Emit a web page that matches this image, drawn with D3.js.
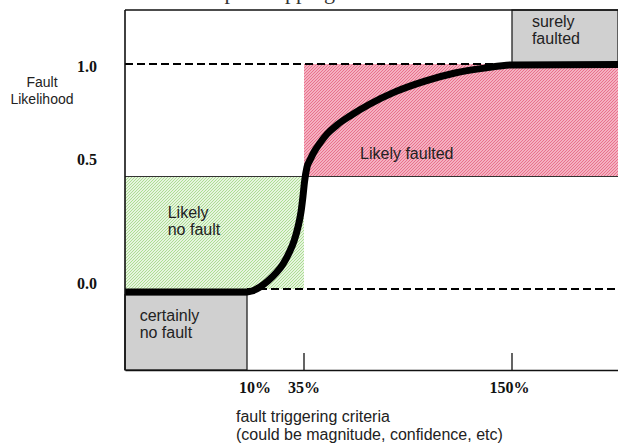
<!DOCTYPE html>
<html>
<head>
<meta charset="utf-8">
<script src="https://cdn.jsdelivr.net/npm/d3@7"></script>
<style>
  body { margin: 0; background: #fff; }
  svg { display: block; }
</style>
</head>
<body>
<div id="chart"></div>
<script>
// cut-off heading above the figure
const title = "Transformation of input mapping function";

// x axis: fault triggering criteria (%), drawn on a schematic piecewise scale
const xBreaks = [0, 10, 35, 150, 200];
const xTicks = [10, 35, 150];
const xTickLabels = ["10%", "35%", "150%"];
const xTickLabelAt = [13.5, 35, 148.6];

// y axis: fault likelihood
const yExtent = [-0.36, 1.24];
const yTickLabels = ["1.0", "0.5", "0.0"];
const yTickLabelAt = [0.99, 0.578, 0.027];

// the mapping curve
const curveX = [0, 10, 12.19, 15.7, 19.21, 22.72, 25.79, 28.42, 30.61, 32.37, 33.68, 34.56, 35.28, 36.66, 38.32, 40.53, 43.85, 47.72, 53.25, 60.43, 71.49, 85.31, 101.9, 118.48, 135.07, 150, 200];
const curveY = [-0.013, -0.013, -0.009, 0.009, 0.036, 0.071, 0.111, 0.16, 0.213, 0.276, 0.342, 0.413, 0.476, 0.542, 0.573, 0.609, 0.649, 0.689, 0.729, 0.769, 0.822, 0.876, 0.924, 0.96, 0.982, 0.996, 0.998];

// zones
const zoneNames = ["Likely no fault", "Likely faulted", "certainly no fault", "surely faulted"];
const zoneX = [[0, 35], [35, 200], [0, 10], [150, 200]];
const zoneY = [[0, 0.5], [0.5, 1.0], [-0.36, -0.025], [1.0, 1.24]];
const zoneLines = [["Likely", "no fault"], ["Likely faulted"], ["certainly", "no fault"], ["surely", "faulted"]];
const zoneLabelAt = [[3.5, 0.316], [66, 0.578], [1.2, -0.142], [159.4, 1.164]];

// reference levels
const dashedLevels = [1.0, 0.0];
const dashedFrom = [[0, 150], [10, 200]];

const width = 618, height = 444;
const margin = { top: 10, right: 0, bottom: 74, left: 125 };
const innerWidth = width - margin.left - margin.right;
const innerHeight = height - margin.top - margin.bottom;

const svgRoot = d3.select("#chart").append("svg")
  .attr("width", width)
  .attr("height", height);

// heading, only the descenders show at the very top
svgRoot.append("text")
  .attr("x", 42)
  .attr("y", -1)
  .attr("font-family", "Liberation Serif, Times New Roman, serif")
  .attr("font-size", 22)
  .attr("fill", "#333")
  .text(title);

const defs = svgRoot.append("defs");
const hatch = (id, bg, fg) => {
  const p = defs.append("pattern")
    .attr("id", id)
    .attr("patternUnits", "userSpaceOnUse")
    .attr("width", 3)
    .attr("height", 3);
  p.append("rect").attr("width", 3).attr("height", 3).attr("fill", bg);
  p.append("path")
    .attr("d", "M-1,1 l2,-2 M0,3 l3,-3 M2,4 l2,-2")
    .attr("stroke", fg)
    .attr("stroke-width", 1.1);
};
hatch("hatch-green", "#ffffff", "#a9dc8e");
hatch("hatch-pink", "#f9cdd7", "#e96c89");

const svg = svgRoot.append("g")
  .attr("transform", `translate(${margin.left},${margin.top})`);

const xScale = d3.scaleLinear()
  .domain(xBreaks)
  .range([0, 122, 179, 387, innerWidth]);

const yScale = d3.scaleLinear()
  .domain(yExtent)
  .range([innerHeight, 0]);

const zoneFills = ["url(#hatch-green)", "url(#hatch-pink)", "#d0d0d0", "#d0d0d0"];

// zone rectangles
zoneNames.forEach((name, i) => {
  svg.append("rect")
    .attr("x", xScale(zoneX[i][0]))
    .attr("y", yScale(zoneY[i][1]))
    .attr("width", xScale(zoneX[i][1]) - xScale(zoneX[i][0]))
    .attr("height", yScale(zoneY[i][0]) - yScale(zoneY[i][1]))
    .attr("fill", zoneFills[i])
    .attr("stroke", i >= 2 ? "#222" : "none")
    .attr("stroke-width", i >= 2 ? 1.3 : 0);
});

// 0.5 boundary line
svg.append("line")
  .attr("x1", 0)
  .attr("x2", innerWidth)
  .attr("y1", yScale(0.5))
  .attr("y2", yScale(0.5))
  .attr("stroke", "#333")
  .attr("stroke-width", 1);

// dashed 0 and 1 levels
dashedLevels.forEach((lvl, i) => {
  svg.append("line")
    .attr("x1", xScale(dashedFrom[i][0]))
    .attr("x2", xScale(dashedFrom[i][1]))
    .attr("y1", yScale(lvl))
    .attr("y2", yScale(lvl))
    .attr("stroke", "#000")
    .attr("stroke-width", 2)
    .attr("stroke-dasharray", "8 4");
});

// zone labels
zoneNames.forEach((name, i) => {
  const t = svg.append("text")
    .attr("x", xScale(zoneLabelAt[i][0]))
    .attr("y", yScale(zoneLabelAt[i][1]))
    .attr("font-family", "Liberation Sans, Arial, sans-serif")
    .attr("font-size", 16)
    .attr("fill", "#222");
  zoneLines[i].forEach((line, j) => {
    t.append("tspan")
      .attr("x", xScale(zoneLabelAt[i][0]))
      .attr("dy", j === 0 ? 0 : 17)
      .text(line);
  });
});

// the curve
const points = curveX.map((x, i) => [x, curveY[i]]);
svg.append("path")
  .datum(points)
  .attr("fill", "none")
  .attr("stroke", "#000")
  .attr("stroke-width", 7)
  .attr("stroke-linecap", "butt")
  .attr("d", d3.line()
    .x(d => xScale(d[0]))
    .y(d => yScale(d[1]))
    .curve(d3.curveMonotoneX));

// frame: left, top, bottom
svg.append("line").attr("x1", 0).attr("x2", 0).attr("y1", 0).attr("y2", innerHeight)
  .attr("stroke", "#111").attr("stroke-width", 1.6);
svg.append("line").attr("x1", 0).attr("x2", innerWidth).attr("y1", 0).attr("y2", 0)
  .attr("stroke", "#111").attr("stroke-width", 1.6);

// x axis
const xAxis = svg.append("g")
  .attr("class", "x-axis")
  .attr("transform", `translate(0,${innerHeight})`)
  .call(d3.axisBottom(xScale).tickValues(xTicks).tickSize(0).tickFormat(""));
xAxis.select(".domain").attr("stroke", "#111").attr("stroke-width", 1.6);

svg.selectAll(".x-tick")
  .data(xTicks.slice(1))
  .enter()
  .append("line")
  .attr("class", "x-tick")
  .attr("x1", d => xScale(d))
  .attr("x2", d => xScale(d))
  .attr("y1", innerHeight - 17)
  .attr("y2", innerHeight)
  .attr("stroke", "#111")
  .attr("stroke-width", 1.3);

svg.selectAll(".x-label")
  .data(xTickLabels)
  .enter()
  .append("text")
  .attr("class", "x-label")
  .attr("x", (d, i) => xScale(xTickLabelAt[i]))
  .attr("y", innerHeight + 23)
  .attr("text-anchor", "middle")
  .attr("font-family", "Liberation Serif, Times New Roman, serif")
  .attr("font-weight", "bold")
  .attr("font-size", 16)
  .attr("fill", "#111")
  .text(d => d);

// y labels
svg.selectAll(".y-label")
  .data(yTickLabels)
  .enter()
  .append("text")
  .attr("class", "y-label")
  .attr("x", -28)
  .attr("y", (d, i) => yScale(yTickLabelAt[i]))
  .attr("dy", "0.35em")
  .attr("text-anchor", "end")
  .attr("font-family", "Liberation Serif, Times New Roman, serif")
  .attr("font-weight", "bold")
  .attr("font-size", 16)
  .attr("fill", "#111")
  .text(d => d);

// axis titles
const yTitle = svgRoot.append("text")
  .attr("text-anchor", "middle")
  .attr("font-family", "Liberation Sans, Arial, sans-serif")
  .attr("font-size", 14)
  .attr("fill", "#222");
yTitle.append("tspan").attr("x", 42).attr("y", 87).text("Fault");
yTitle.append("tspan").attr("x", 42).attr("y", 104).text("Likelihood");

const xTitle = svgRoot.append("text")
  .attr("font-family", "Liberation Sans, Arial, sans-serif")
  .attr("font-size", 16)
  .attr("fill", "#222");
xTitle.append("tspan").attr("x", 236).attr("y", 422).text("fault triggering criteria");
xTitle.append("tspan").attr("x", 236).attr("y", 440).text("(could be magnitude, confidence, etc)");
</script>
</body>
</html>
